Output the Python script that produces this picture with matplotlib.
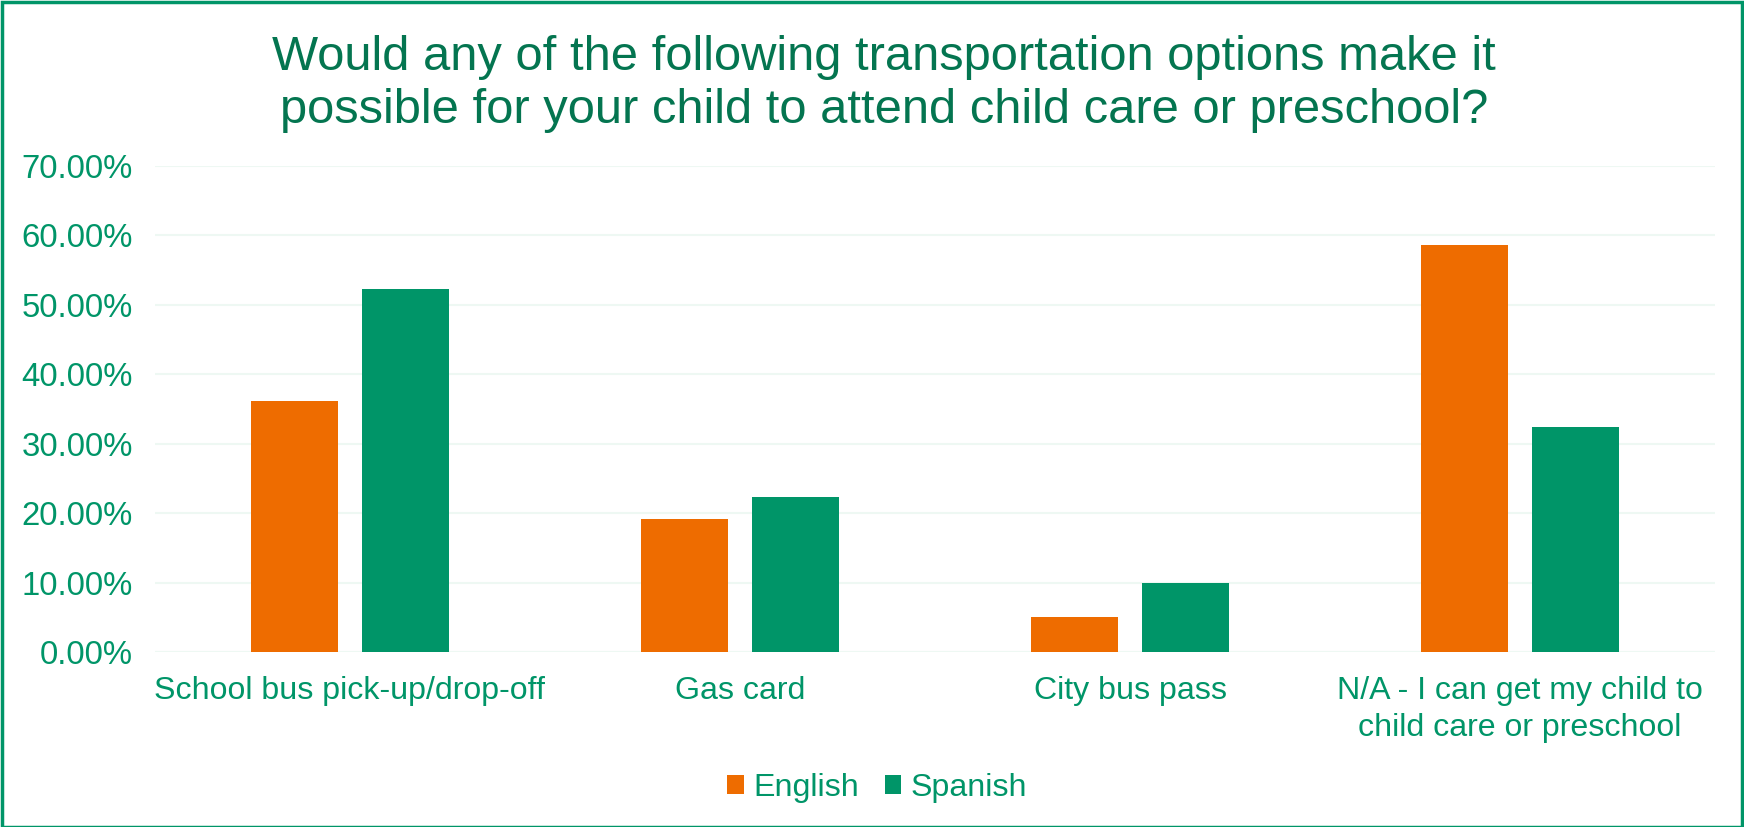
import numpy as np
import matplotlib
matplotlib.use("Agg")
import matplotlib.pyplot as plt
from matplotlib.patches import Rectangle
from matplotlib.ticker import FuncFormatter

categories = ["School bus pick-up/drop-off", "Gas card", "City bus pass",
              "N/A - I can get my child to\nchild care or preschool"]
english = [36.1, 19.1, 5.0, 58.6]
spanish = [52.3, 22.3, 9.9, 32.4]
series_names = ["English", "Spanish"]

orange = "#EE6C00"
green = "#009568"
title_green = "#047550"
grid_col = "#EEF8F3"

plt.rcParams['font.family'] = ['Liberation Sans', 'DejaVu Sans']

fig = plt.figure(figsize=(17.44, 8.27), dpi=100)
ax = fig.add_axes([155/1744, 0.2116, 1560/1744, 0.5879])

x = np.arange(len(categories))
w = 0.223
off = w/2 + 0.031
b1 = ax.bar(x - off, english, w, color=orange, label=series_names[0], zorder=3)
b2 = ax.bar(x + off, spanish, w, color=green, label=series_names[1], zorder=3)

ax.set_xlim(-0.5, len(categories) - 0.5)
ax.set_ylim(0, 70)
ax.set_yticks(np.arange(0, 71, 10))
ax.yaxis.set_major_formatter(FuncFormatter(lambda v, p: f"{v:.2f}%"))
ax.set_xticks(x)
ax.set_xticklabels(categories, linespacing=1.3)
ax.tick_params(axis='y', labelsize=23.7, colors=green, length=0, pad=16)
ax.tick_params(axis='x', labelsize=23.1, colors=green, length=0, pad=17)
ax.grid(axis='y', color=grid_col, linewidth=1.5, zorder=0)
for s in ax.spines.values():
    s.set_visible(False)
ax.axhline(0, color=grid_col, linewidth=1.5, zorder=1)

fig.suptitle("Would any of the following transportation options make it\n"
             "possible for your child to attend child care or preschool?",
             x=0.507, y=0.958, fontsize=35.2, color=title_green, linespacing=1.24)

leg = fig.legend(handles=[b1, b2], loc='center', bbox_to_anchor=(0.503, 0.047),
                 ncol=2, frameon=False, fontsize=23.1, handlelength=0.52,
                 handleheight=0.52, handletextpad=0.3, columnspacing=0.8)
for t in leg.get_texts():
    t.set_color(green)

fig.patches.append(Rectangle((0.001, 0.0), 0.998, 0.998, transform=fig.transFigure,
                             fill=False, edgecolor=green, linewidth=2.5))

fig.savefig("out.png", dpi=100)
